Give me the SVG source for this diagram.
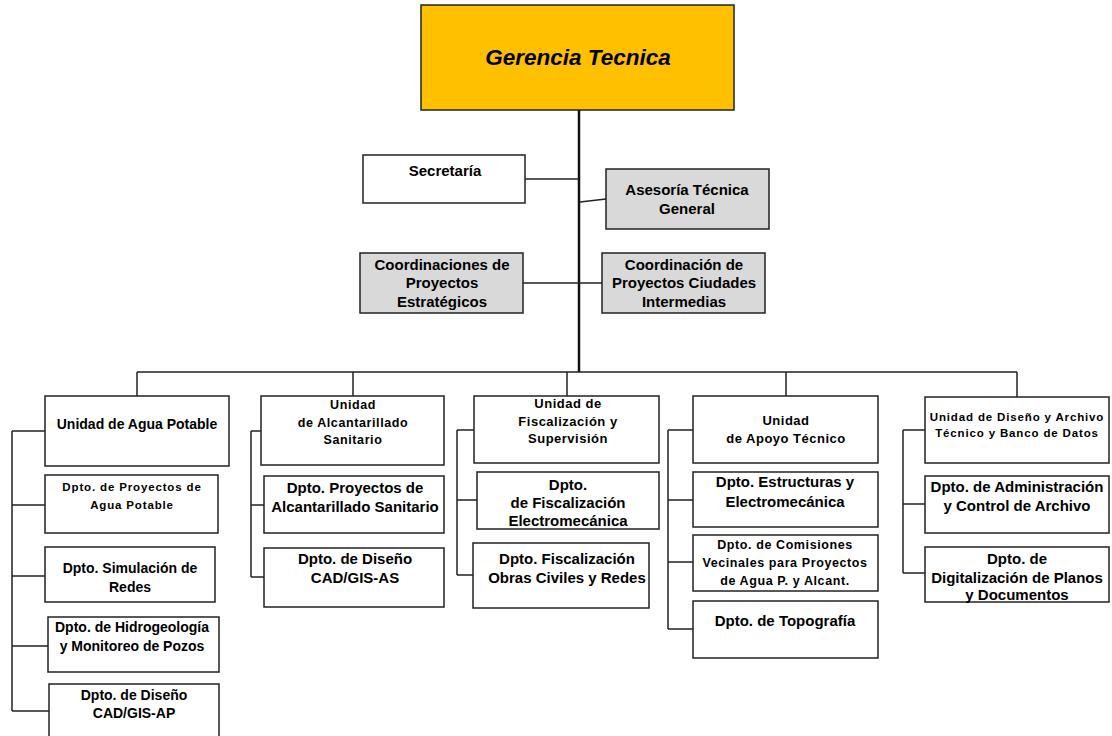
<svg xmlns="http://www.w3.org/2000/svg" width="1112" height="736" viewBox="0 0 1112 736">
<style>
.box{fill:#fff;stroke:#222;stroke-width:1.5}
.grey{fill:#D9D9D9;stroke:#222;stroke-width:1.5}
.top{fill:#FFC000;stroke:#222;stroke-width:1.5}
.ln{fill:none;stroke:#222;stroke-width:1.5}
.trunk{fill:none;stroke:#111;stroke-width:2.5}
text{font-family:"Liberation Sans",Arial,sans-serif;font-weight:bold;fill:#000;text-anchor:middle}
.t15{font-size:15px}
.t14{font-size:14px}
.t13{font-size:13px;letter-spacing:0.5px}
.t125{font-size:12.5px;letter-spacing:0.6px}
.t11{font-size:11.5px;letter-spacing:0.85px}
.big{font-size:22.5px;font-style:italic}
</style>
<g id="connectors">
<path class="trunk" d="M579 110V372"/>
<path class="ln" d="M525 179H579M580 202L606 199M523 283H602"/>
<path class="ln" d="M137 372H1017M137 372V396M353 372V396M567 372V396M786 372V396M1017 372V397"/>
<path class="ln" d="M12 431V711M12 431H45M12 505H45M12 576H45M12 646H48M12 711H49"/>
<path class="ln" d="M251 431V577M251 431H261M251 505H264M251 577H264"/>
<path class="ln" d="M457 430V575M457 430H474M457 500H477M457 575H473"/>
<path class="ln" d="M668 430V629M668 430H693M668 500H693M668 562H693M668 629H693"/>
<path class="ln" d="M903 430V573M903 430H925M903 504H925M903 573H925"/>
</g>
<g id="gerencia"><rect class="top" x="421" y="5" width="313" height="105"/><text class="big" x="578" y="65">Gerencia Tecnica</text></g>
<g id="secretaria"><rect class="box" x="363" y="155" width="162" height="48"/><text class="t15" x="445" y="176">Secretaría</text></g>
<g id="asesoria"><rect class="grey" x="606" y="169" width="163" height="60"/><text class="t15" x="687" y="195">Asesoría Técnica</text><text class="t15" x="687" y="214">General</text></g>
<g id="coord-estrategicos"><rect class="grey" x="360" y="253" width="163" height="60"/><text class="t15" x="442" y="270">Coordinaciones de</text><text class="t15" x="442" y="288">Proyectos</text><text class="t15" x="442" y="307">Estratégicos</text></g>
<g id="coord-ciudades"><rect class="grey" x="602" y="253" width="163" height="60"/><text class="t15" x="684" y="270">Coordinación de</text><text class="t15" x="684" y="288">Proyectos Ciudades</text><text class="t15" x="684" y="307">Intermedias</text></g>

<g id="u-agua"><rect class="box" x="45" y="396" width="184" height="70"/><text class="t14" x="137" y="429">Unidad de Agua Potable</text></g>
<g id="d-proy-agua"><rect class="box" x="45" y="475" width="173" height="58"/><text class="t11" x="132" y="491">Dpto. de Proyectos de</text><text class="t11" x="132" y="509">Agua Potable</text></g>
<g id="d-simulacion"><rect class="box" x="45" y="547" width="170" height="55"/><text class="t14" x="130" y="573">Dpto. Simulación de</text><text class="t14" x="130" y="592">Redes</text></g>
<g id="d-hidro"><rect class="box" x="48" y="617" width="171" height="55"/><text class="t14" x="132" y="632">Dpto. de Hidrogeología</text><text class="t14" x="132" y="651">y Monitoreo de Pozos</text></g>
<g id="d-cad-ap"><rect class="box" x="49" y="684" width="170" height="60"/><text class="t14" x="134" y="700">Dpto. de Diseño</text><text class="t14" x="134" y="718">CAD/GIS-AP</text></g>

<g id="u-alcant"><rect class="box" x="261" y="396" width="183" height="69"/><text class="t125" x="353" y="409">Unidad</text><text class="t125" x="353" y="427">de Alcantarillado</text><text class="t125" x="353" y="444">Sanitario</text></g>
<g id="d-proy-alcant"><rect class="box" x="264" y="476" width="180" height="57"/><text class="t15" x="355" y="493">Dpto. Proyectos de</text><text class="t15" x="355" y="512">Alcantarillado Sanitario</text></g>
<g id="d-cad-as"><rect class="box" x="264" y="548" width="180" height="59"/><text class="t15" x="355" y="564">Dpto. de Diseño</text><text class="t15" x="355" y="583">CAD/GIS-AS</text></g>

<g id="u-fisc"><rect class="box" x="474" y="396" width="185" height="67"/><text class="t13" x="568" y="408">Unidad de</text><text class="t13" x="568" y="426">Fiscalización y</text><text class="t13" x="568" y="443">Supervisión</text></g>
<g id="d-fisc-electro"><rect class="box" x="477" y="472" width="182" height="57"/><text class="t15" x="568" y="490">Dpto.</text><text class="t15" x="568" y="508">de Fiscalización</text><text class="t15" x="568" y="526">Electromecánica</text></g>
<g id="d-fisc-obras"><rect class="box" x="473" y="543" width="176" height="65"/><text class="t15" x="567" y="564">Dpto. Fiscalización</text><text class="t15" x="567" y="583">Obras Civiles y Redes</text></g>

<g id="u-apoyo"><rect class="box" x="693" y="396" width="185" height="67"/><text class="t13" x="786" y="425">Unidad</text><text class="t13" x="786" y="443">de Apoyo Técnico</text></g>
<g id="d-estructuras"><rect class="box" x="693" y="472" width="185" height="55"/><text class="t15" x="785" y="487">Dpto. Estructuras y</text><text class="t15" x="785" y="507">Electromecánica</text></g>
<g id="d-comisiones"><rect class="box" x="693" y="535" width="185" height="56"/><text class="t125" x="785" y="549">Dpto. de Comisiones</text><text class="t125" x="785" y="567">Vecinales para Proyectos</text><text class="t125" x="785" y="585">de Agua P. y Alcant.</text></g>
<g id="d-topografia"><rect class="box" x="693" y="601" width="185" height="57"/><text class="t15" x="785" y="626">Dpto. de Topografía</text></g>

<g id="u-diseno"><rect class="box" x="925" y="397" width="184" height="66"/><text class="t11" x="1017" y="421">Unidad de Diseño y Archivo</text><text class="t11" x="1017" y="437">Técnico y Banco de Datos</text></g>
<g id="d-admin"><rect class="box" x="925" y="476" width="184" height="57"/><text class="t15" x="1017" y="492">Dpto. de Administración</text><text class="t15" x="1017" y="511">y Control de Archivo</text></g>
<g id="d-digital"><rect class="box" x="925" y="547" width="184" height="55"/><text class="t15" x="1017" y="564">Dpto. de</text><text class="t15" x="1017" y="583">Digitalización de Planos</text><text class="t15" x="1017" y="600">y Documentos</text></g>
</svg>
